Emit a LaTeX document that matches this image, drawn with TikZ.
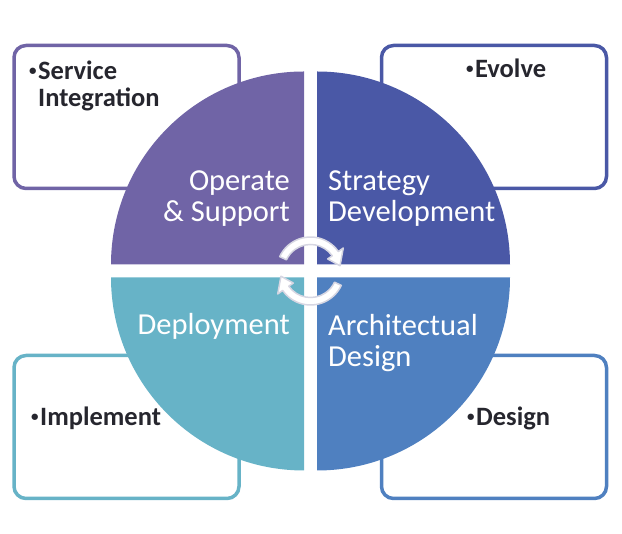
\documentclass[tikz,border=0pt]{standalone}
\usepackage{fontspec}
\setmainfont{Carlito}
\usepackage{xcolor}
\usetikzlibrary{positioning}

\definecolor{opercol}{HTML}{7064A6}
\definecolor{stratcol}{HTML}{4A58A6}
\definecolor{deploycol}{HTML}{67B3C7}
\definecolor{archcol}{HTML}{4F80C0}
\definecolor{itemgray}{HTML}{26262E}
\definecolor{cycleedge}{HTML}{D6D6E2}

\newcommand{\dotmark}{\llap{\raisebox{4.5pt}{\fontsize{15}{15}\selectfont •}\hspace{1.5pt}}}

\begin{document}
\begin{tikzpicture}[
    x=1pt, y=1pt,
    box/.style={rectangle, draw, line width=3.5pt, rounded corners=12pt, fill=white, minimum width=225pt, minimum height=143pt},
    quadtext/.style={text=white, font=\fontsize{30.5}{31.5}\selectfont, inner sep=0pt},
    itemtext/.style={text=itemgray, font=\fontsize{26.5}{27}\selectfont\bfseries, inner sep=0pt, align=left, anchor=base west},
    cyclearrow/.style={fill=white, draw=cycleedge, line width=1.5pt, line join=round}
]
\useasboundingbox (0,0) rectangle (622,534);

% Outer boxes
\node[box, draw=opercol] (operatebox) at (126.5,417) {};
\node[box, draw=stratcol] (strategybox) at (494,417) {};
\node[box, draw=deploycol] (deploybox) at (126.5,107) {};
\node[box, draw=archcol] (archbox) at (494,107) {};

% Quarter discs
\fill[opercol] (304,269.5) -- ++(-193,0) arc[start angle=180, end angle=90, radius=193] -- cycle;
\fill[stratcol] (317,269.5) -- ++(0,193) arc[start angle=90, end angle=0, radius=193] -- cycle;
\fill[deploycol] (304,256.5) -- ++(0,-193) arc[start angle=270, end angle=180, radius=193] -- cycle;
\fill[archcol] (317,256.5) -- ++(193,0) arc[start angle=0, end angle=-90, radius=193] -- cycle;

% Cycle arrows in the middle
\coordinate (hub) at (310.5,263);
\foreach \turn in {0,180}
  \draw[cyclearrow, shift={(hub)}, rotate=\turn] (155:34) arc[start angle=155, end angle=35, radius=34] -- (35:40) -- (10:30) -- (35:21) -- (35:26.5) arc[start angle=35, end angle=155, radius=26.5] -- cycle;

% Quarter labels (base = last line)
\node[quadtext, anchor=base east, align=right] (operate) at (290,312) {Operate\\\& Support};
\node[quadtext, anchor=base west, align=left] (strategy) at (328,312) {Strategy\\Development};
\node[quadtext, anchor=base east, align=right] (deploy) at (290,199) {Deployment};
\node[quadtext, anchor=base west, align=left] (arch) at (328,167) {Architectual\\Design};

% Box items
\node[itemtext] (service) at (38,427) {\dotmark Service\\Integration};
\node[itemtext] (evolve) at (475,456) {\dotmark Evolve};
\node[itemtext] (implement) at (40,108) {\dotmark Implement};
\node[itemtext] (design) at (476,108) {\dotmark Design};

\end{tikzpicture}
\end{document}
